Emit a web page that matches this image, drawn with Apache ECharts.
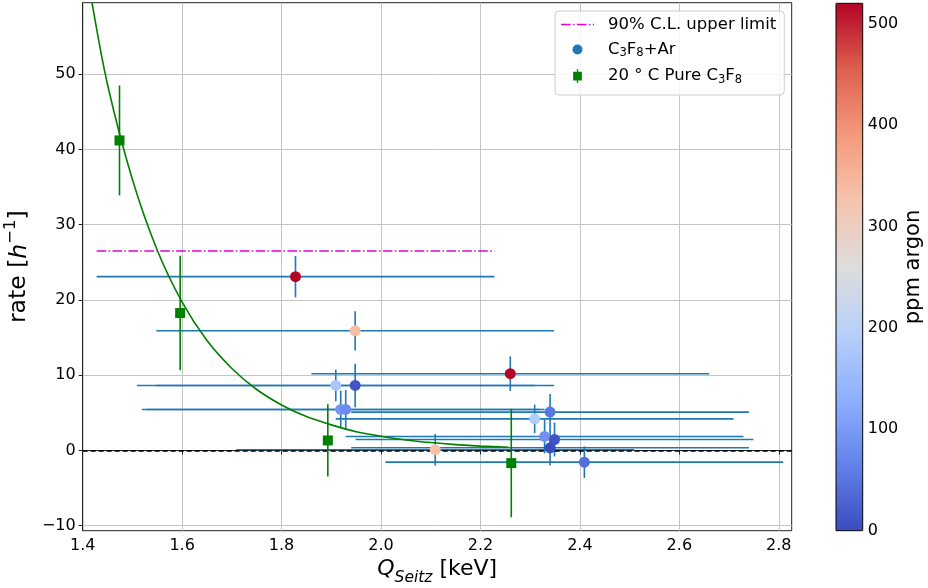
<!DOCTYPE html>
<html>
<head>
<meta charset="utf-8">
<script src="https://cdn.jsdelivr.net/npm/echarts@6/dist/echarts.min.js"></script>
<style>
  html, body { margin: 0; padding: 0; background: #fff; }
  #chart { width: 928px; height: 588px; }
</style>
</head>
<body>
<div id="chart"></div>
<script>
// C3F8 + argon runs: Seitz threshold, measured rate and argon concentration
const arQ       = [1.828, 1.948, 2.260, 1.909, 1.948, 1.919, 1.929, 2.309, 2.340, 2.329, 2.349, 2.340, 2.109, 2.409];
const arQErr    = [0.40, 0.40, 0.40, 0.40, 0.40, 0.40, 0.40, 0.40, 0.40, 0.40, 0.40, 0.40, 0.40, 0.40];
const arRate    = [23.1, 15.9, 10.2, 8.64, 8.64, 5.45, 5.45, 4.2, 5.1, 1.86, 1.46, 0.36, 0.1, -1.55];
const arRateErr = [2.75, 2.6, 2.3, 2.1, 2.9, 2.5, 2.6, 1.9, 2.4, 2.25, 2.25, 2.35, 2.1, 2.1];
const arPpm     = [520, 335, 520, 175, 12, 90, 80, 185, 50, 85, 10, 0, 330, 40];

// Pure C3F8 runs at 20 C
const pureQ       = [1.474, 1.596, 1.893, 2.262];
const pureRate    = [41.2, 18.26, 1.33, -1.68];
const pureRateErr = [7.3, 7.6, 4.8, 7.2];

// Fitted curve through the pure C3F8 rates
const fitQ    = [1.4187, 1.45, 1.50, 1.55, 1.60, 1.65, 1.70, 1.75, 1.80, 1.85, 1.90, 1.95, 2.00, 2.05, 2.10, 2.15, 2.20, 2.256];
const fitRate = [59.5, 48.6, 36.0, 26.6, 19.7, 14.6, 10.9, 8.1, 6.05, 4.5, 3.4, 2.5, 1.9, 1.4, 1.05, 0.78, 0.58, 0.43];

// 90% C.L. upper limit
const ulQ    = [1.428, 2.228];
const ulRate = [26.5, 26.5];

// Axis ticks
const xTicks  = [1.4, 1.6, 1.8, 2.0, 2.2, 2.4, 2.6, 2.8];
const yTicks  = [-10, 0, 10, 20, 30, 40, 50];
const cbTicks = [0, 100, 200, 300, 400, 500];
const ppmMax  = 520;

const coolwarm = ['#3b4cc0', '#6282ea', '#8db0fe', '#b8d0f9', '#dddddd',
                  '#f5c4ad', '#f49a7b', '#de604d', '#b40426'];

const FONT = 'DejaVu Sans';
const minus = v => (v < 0 ? '\u2212' + Math.abs(v) : String(v));

const arData   = arQ.map((q, i) => [q, arRate[i], arPpm[i]]);
const arErrs   = arQ.map((q, i) => [q, arRate[i], arQErr[i], arRateErr[i]]);
const pureData = pureQ.map((q, i) => [q, pureRate[i]]);
const pureErrs = pureQ.map((q, i) => [q, pureRate[i], pureRateErr[i]]);
const fitData  = fitQ.map((q, i) => [q, fitRate[i]]);
const ulData   = ulQ.map((q, i) => [q, ulRate[i]]);

function lineEl(p1, p2, color) {
  return {
    type: 'line',
    shape: { x1: p1[0], y1: p1[1], x2: p2[0], y2: p2[1] },
    style: { stroke: color, lineWidth: 1.6 }
  };
}

// Legend glyphs: a dash-dot stroke, a dot, and a square with an error bar.
// The zero-length moves pad each glyph's box to the same 14px height.
const ICON_DASHDOT = 'path://M0 -7L0 -7M0 7L0 7' +
  'M0 -0.8L9.6 -0.8L9.6 0.8L0 0.8Z' +
  'M12 -0.8L13.5 -0.8L13.5 0.8L12 0.8Z' +
  'M15.9 -0.8L25.5 -0.8L25.5 0.8L15.9 0.8Z' +
  'M27.9 -0.8L29.4 -0.8L29.4 0.8L27.9 0.8Z' +
  'M31.8 -0.8L33 -0.8L33 0.8L31.8 0.8Z';
const ICON_DOT = 'path://M0 -7L0 -7M0 7L0 7M5 0A5 5 0 1 1 -5 0A5 5 0 1 1 5 0Z';
const ICON_SQ_ERR = 'path://M0 2L10 2L10 12L0 12ZM4.3 -1L5.7 -1L5.7 15L4.3 15Z';

const chart = echarts.init(document.getElementById('chart'), null, { renderer: 'canvas' });

const legendNames = {
  'ul':   '{gap|}{n|90% C.L. upper limit}',
  'ar':   '{gap|}{n|C}{s|3}{n|F}{s|8}{n|+Ar}',
  'pure': '{gap|}{n|20 \u00b0 C Pure C}{s|3}{n|F}{s|8}'
};

chart.setOption({
  animation: false,
  textStyle: { fontFamily: FONT, color: '#000' },
  grid: [
    { left: 82.7, top: 2.7, width: 709, height: 528, show: true, outerBoundsMode: 'none',
      containLabel: false,
      borderColor: '#222', borderWidth: 1, backgroundColor: 'transparent', z: 0 },
    { left: 836, top: 3.3, width: 26.7, height: 527.4, show: true, outerBoundsMode: 'none',
      containLabel: false,
      borderColor: '#000', borderWidth: 1, backgroundColor: 'transparent', z: 10 }
  ],
  xAxis: [
    {
      type: 'value', gridIndex: 0, min: 1.4, max: 2.826,
      axisLine: { show: true, lineStyle: { color: '#222', width: 1 } },
      axisTick: { show: true, customValues: xTicks, length: 4, lineStyle: { color: '#222' } },
      axisLabel: { customValues: xTicks, formatter: v => v.toFixed(1),
                   fontSize: 16, color: '#000', margin: 7, fontFamily: FONT },
      splitLine: { show: false },
      name: '{i|Q}{is|Seitz}{n| [keV]}',
      nameLocation: 'middle', nameGap: 23,
      nameTextStyle: {
        rich: {
          i:  { fontSize: 22, fontStyle: 'italic', fontFamily: FONT, lineHeight: 27, verticalAlign: 'top' },
          is: { fontSize: 15.5, fontStyle: 'italic', fontFamily: FONT, lineHeight: 15, verticalAlign: 'bottom' },
          n:  { fontSize: 22, fontFamily: FONT, lineHeight: 27, verticalAlign: 'top' }
        }
      }
    },
    { type: 'value', gridIndex: 1, min: 0, max: 1, show: false }
  ],
  yAxis: [
    {
      type: 'value', gridIndex: 0, min: -10.66, max: 59.5,
      axisLine: { show: true, lineStyle: { color: '#222', width: 1 } },
      axisTick: { show: true, customValues: yTicks, length: 4, lineStyle: { color: '#222' } },
      axisLabel: { customValues: yTicks, formatter: v => minus(v),
                   fontSize: 16, color: '#000', margin: 7, fontFamily: FONT },
      splitLine: { show: false },
      name: '{n|rate [}{i|h}{sup|\u22121}{n|]}',
      nameLocation: 'middle', nameGap: 49, nameRotate: 90,
      nameTextStyle: {
        rich: {
          n:   { fontSize: 23.5, fontFamily: FONT, lineHeight: 29, verticalAlign: 'bottom' },
          i:   { fontSize: 23.5, fontStyle: 'italic', fontFamily: FONT, lineHeight: 29, verticalAlign: 'bottom' },
          sup: { fontSize: 16.5, fontFamily: FONT, lineHeight: 16, verticalAlign: 'top' }
        }
      }
    },
    {
      type: 'value', gridIndex: 1, min: 0, max: ppmMax, position: 'right',
      axisLine: { show: false },
      axisTick: { show: true, customValues: cbTicks, length: 4, lineStyle: { color: '#000' } },
      axisLabel: { customValues: cbTicks, fontSize: 16, color: '#000', margin: 5, fontFamily: FONT },
      splitLine: { show: false },
      name: 'ppm argon', nameLocation: 'middle', nameGap: 40, nameRotate: 90,
      nameTextStyle: { fontSize: 21, fontFamily: FONT, color: '#000' }
    }
  ],
  visualMap: {
    type: 'continuous', min: 0, max: ppmMax, dimension: 2, seriesIndex: 5,
    orient: 'vertical', left: 836, top: 3.3, itemWidth: 26.7, itemHeight: 527.4,
    padding: 0, calculable: false, hoverLink: false, showLabel: false,
    inRange: { color: coolwarm }, z: 4
  },
  legend: {
    orient: 'vertical', left: 555, top: 11,
    padding: [5, 8, 9, 6], itemGap: 8, itemWidth: 33, itemHeight: 14,
    backgroundColor: 'rgba(255,255,255,0.85)', borderColor: '#cccccc', borderWidth: 1, borderRadius: 4,
    selectedMode: false, symbolKeepAspect: true,
    data: [
      { name: 'ul', icon: ICON_DASHDOT, itemStyle: { color: '#e000e0' } },
      { name: 'ar', icon: ICON_DOT, itemStyle: { color: '#1f77b4' } },
      { name: 'pure', icon: ICON_SQ_ERR, itemStyle: { color: '#008000' } }
    ],
    formatter: name => legendNames[name],
    textStyle: {
      fontFamily: FONT, fontSize: 16.5, color: '#000',
      rich: {
        gap: { width: 9 },
        n: { fontSize: 16.5, fontFamily: FONT, lineHeight: 20 },
        s: { fontSize: 11.5, fontFamily: FONT, lineHeight: 11, verticalAlign: 'bottom' }
      }
    }
  },
  series: [
    // 0: grid lines
    {
      type: 'line', name: 'grid', data: [], silent: true,
      markLine: {
        silent: true, symbol: 'none', z: 0, label: { show: false },
        lineStyle: { color: '#c4c4c4', width: 1, type: 'solid' },
        emphasis: { disabled: true },
        data: xTicks.filter(v => v > 1.4).map(v => ({ xAxis: v }))
              .concat(yTicks.map(v => ({ yAxis: v })))
      }
    },
    // 1: zero reference line
    {
      type: 'line', name: 'zero', data: [], silent: true,
      markLine: {
        silent: true, symbol: 'none', z: 3, label: { show: false },
        lineStyle: { color: '#000', width: 1.5, type: [5, 3] },
        emphasis: { disabled: true },
        data: [{ yAxis: 0 }]
      }
    },
    // 2: C3F8+Ar error bars
    {
      type: 'custom', name: 'arErr', data: arErrs, z: 2, silent: true,
      encode: { x: 0, y: 1 },
      renderItem: (params, api) => {
        const q = api.value(0), r = api.value(1), dq = api.value(2), dr = api.value(3);
        const c = '#1f77b4';
        return {
          type: 'group',
          children: [
            lineEl(api.coord([q - dq, r]), api.coord([q + dq, r]), c),
            lineEl(api.coord([q, r - dr]), api.coord([q, r + dr]), c)
          ]
        };
      }
    },
    // 3: fitted curve
    {
      type: 'line', name: 'fit', data: fitData, smooth: 0.3, showSymbol: false, symbol: 'none',
      lineStyle: { color: '#008000', width: 1.6 }, z: 2, silent: true, clip: true
    },
    // 4: upper limit
    {
      type: 'line', name: 'ul', data: ulData, showSymbol: false, symbol: 'none',
      lineStyle: { color: '#e000e0', width: 1.5, type: [9.6, 2.4, 1.5, 2.4] },
      itemStyle: { color: '#e000e0' }, z: 3, silent: true
    },
    // 5: C3F8+Ar points coloured by ppm argon
    {
      type: 'scatter', name: 'ar', data: arData, symbol: 'circle', symbolSize: 11,
      itemStyle: { opacity: 1 }, z: 4, silent: true
    },
    // 6: pure C3F8 error bars
    {
      type: 'custom', name: 'pureErr', data: pureErrs, z: 4, silent: true,
      encode: { x: 0, y: 1 },
      renderItem: (params, api) => {
        const q = api.value(0), r = api.value(1), dr = api.value(2);
        return lineEl(api.coord([q, r - dr]), api.coord([q, r + dr]), '#008000');
      }
    },
    // 7: pure C3F8 points
    {
      type: 'scatter', name: 'pure', data: pureData, symbol: 'rect', symbolSize: 10,
      itemStyle: { color: '#008000', opacity: 1 }, z: 5, silent: true
    }
  ]
});
</script>
</body>
</html>
